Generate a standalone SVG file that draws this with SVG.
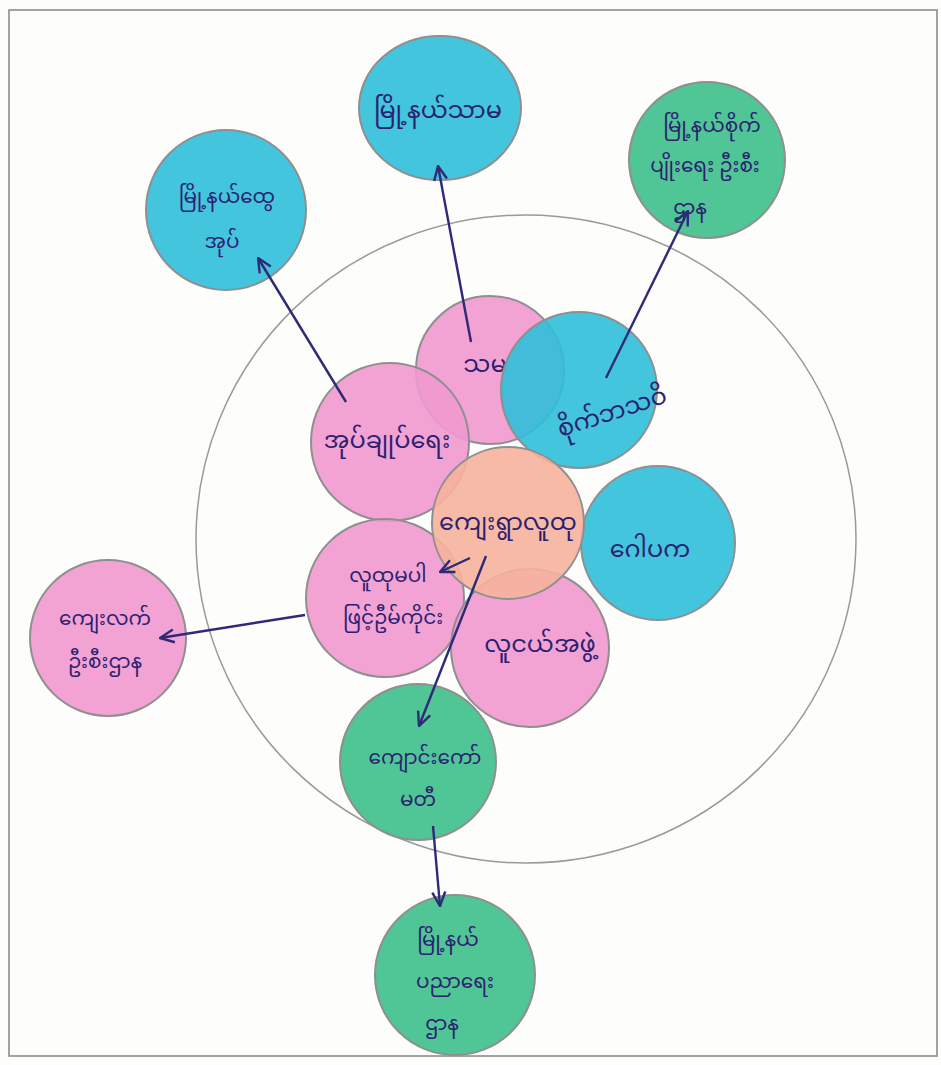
<svg xmlns="http://www.w3.org/2000/svg" width="941" height="1065" viewBox="0 0 941 1065">
<defs>
<style>
.bg{fill:#fdfdfc}
.frame{fill:none;stroke:#8c8c8c;stroke-width:1.6}
.big{fill:none;stroke:#9a9a9a;stroke-width:1.5}
.n{stroke:#8f8f8f;stroke-width:2;fill-opacity:0.9}
.blue{fill:#2fbfd9}
.pink{fill:#f199cf}
.green{fill:#3dbf89}
.orange{fill:#f6b39c}
.t{font-family:"Noto Sans Myanmar","Padauk","Myanmar Text","Noto Sans","DejaVu Sans",sans-serif;font-size:24px;fill:#2b2170;text-anchor:middle}
.s{font-size:20px}
.c line{stroke:#2e2a78;stroke-width:2.4;marker-end:url(#ah)}
</style>
<marker id="ah" viewBox="0 0 16 16" refX="15" refY="8" markerWidth="16" markerHeight="16" orient="auto" markerUnits="userSpaceOnUse">
<path d="M1,1.5 L15,8 L1,14.5" fill="none" stroke="#2e2a78" stroke-width="2.4"/>
</marker>
</defs>
<rect class="bg" x="0" y="0" width="941" height="1065"/>
<rect class="frame" x="9" y="10" width="928" height="1046"/>
<ellipse class="big" cx="526" cy="539" rx="330" ry="324"/>

<g id="n-top-left"><circle class="n blue" cx="226" cy="210" r="80"/><text class="t s" x="227" y="203">မြို့နယ်ထွေ</text><text class="t s" x="222" y="248">အုပ်</text></g>
<g id="n-top"><ellipse class="n blue" cx="440" cy="108" rx="81" ry="72"/><text class="t" x="438" y="118">မြို့နယ်သာမ</text></g>
<g id="n-top-right"><circle class="n green" cx="707" cy="160" r="78"/><text class="t s" x="712" y="132">မြို့နယ်စိုက်</text><text class="t s" x="705" y="172">ပျိုးရေး ဦးစီး</text><text class="t s" x="690" y="214">ဌာန</text></g>

<g id="n-sama"><circle class="n pink" cx="490" cy="370" r="74"/><text class="t" x="485" y="372">သမ</text></g>
<g id="n-sait"><circle class="n blue" cx="579" cy="390" r="78"/><text class="t" x="612" y="420" transform="rotate(-18 612 412)">စိုက်ဘသဝိ</text></g>
<g id="n-okchok"><circle class="n pink" cx="390" cy="442" r="79"/><text class="t" x="387" y="448">အုပ်ချုပ်ရေး</text></g>
<g id="n-gopaka"><circle class="n blue" cx="658" cy="543" r="77"/><text class="t" x="650" y="557">ဂေါပက</text></g>
<g id="n-lhuthu"><circle class="n pink" cx="385" cy="598" r="79"/><text class="t s" x="388" y="582">လူထုမပါ</text><text class="t s" x="393" y="624">ဖြင့်ဦမ်ကိုင်း</text></g>
<g id="n-youth"><circle class="n pink" cx="530" cy="648" r="79"/><text class="t" x="540" y="652">လူငယ်အဖွဲ့</text></g>
<g id="n-center"><circle class="n orange" cx="508" cy="523" r="76"/><text class="t" x="508" y="530">ကျေးရွာလူထု</text></g>

<g id="n-left"><circle class="n pink" cx="108" cy="638" r="78"/><text class="t s" x="105" y="625">ကျေးလက်</text><text class="t s" x="105" y="668">ဦးစီးဌာန</text></g>
<g id="n-school"><circle class="n green" cx="418" cy="762" r="78"/><text class="t s" x="425" y="764">ကျောင်းကော်</text><text class="t s" x="418" y="806">မတီ</text></g>
<g id="n-edu"><circle class="n green" cx="455" cy="975" r="80"/><text class="t s" x="448" y="946">မြို့နယ်</text><text class="t s" x="455" y="988">ပညာရေး</text><text class="t s" x="442" y="1030">ဌာန</text></g>

<g id="connectors" class="c">
<line x1="346" y1="402" x2="258" y2="258"/>
<line x1="471" y1="342" x2="438" y2="166"/>
<line x1="606" y1="378" x2="688" y2="211"/>
<line x1="470" y1="558" x2="440" y2="572"/>
<line x1="305" y1="615" x2="160" y2="638"/>
<line x1="486" y1="556" x2="419" y2="726"/>
<line x1="433" y1="826" x2="440" y2="906"/>
</g>
</svg>
